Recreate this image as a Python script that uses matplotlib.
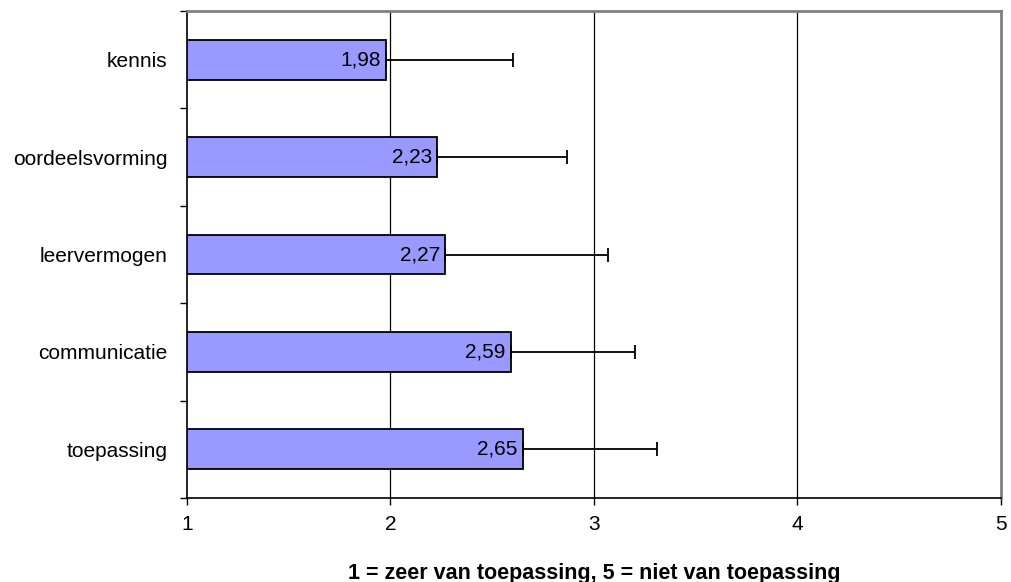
import matplotlib
matplotlib.use("Agg")
import matplotlib.pyplot as plt

plt.rcParams['font.family'] = ['Liberation Sans', 'DejaVu Sans']

categories = ['kennis', 'oordeelsvorming', 'leervermogen', 'communicatie', 'toepassing']
means = [1.98, 2.23, 2.27, 2.59, 2.65]
errors = [0.62, 0.64, 0.80, 0.61, 0.66]
xticks = [1, 2, 3, 4, 5]

fig = plt.figure(figsize=(10.12, 5.82), dpi=100)
ax = fig.add_axes([0.1848, 0.1443, 0.8042, 0.8368])

pos = list(range(len(categories)))
widths = [m - 1 for m in means]
ax.barh(pos, widths, left=1, height=0.41, color='#9999ff', edgecolor='black',
        linewidth=1.3, zorder=3,
        xerr=[[0] * len(errors), errors],
        error_kw=dict(ecolor='black', elinewidth=1.3, capsize=4.7, capthick=1.3, zorder=4))

# waarden in de balken
for p, m in zip(pos, means):
    ax.text(m - 0.025, p, f'{m:.2f}'.replace('.', ','), ha='right', va='center',
            fontsize=15, zorder=5)

ax.set_xlim(1, 5)
ax.set_ylim(len(categories) - 0.5, -0.5)
ax.set_xticks(xticks)
ax.set_xticklabels([str(t) for t in xticks], fontsize=15)
ax.set_yticks(pos)
ax.set_yticklabels(categories, fontsize=15)
ax.tick_params(axis='y', which='major', length=0, pad=14)
ax.set_yticks([p - 0.5 for p in pos] + [len(pos) - 0.5], minor=True)
ax.tick_params(axis='y', which='minor', length=5, direction='out', width=1)
ax.tick_params(axis='x', length=5, direction='out', width=1, pad=7)

for g in [2, 3, 4]:
    ax.axvline(g, color='black', linewidth=0.9, zorder=1)

ax.spines['left'].set_color('black')
ax.spines['bottom'].set_color('black')
ax.spines['left'].set_linewidth(1.2)
ax.spines['bottom'].set_linewidth(1.2)
ax.spines['top'].set_color('#808080')
ax.spines['right'].set_color('#808080')
ax.spines['top'].set_linewidth(2)
ax.spines['right'].set_linewidth(2)

ax.set_xlabel('1 = zeer van toepassing, 5 = niet van toepassing', fontsize=15.5,
              fontweight='bold', labelpad=21)

fig.savefig('out.png', dpi=100)
